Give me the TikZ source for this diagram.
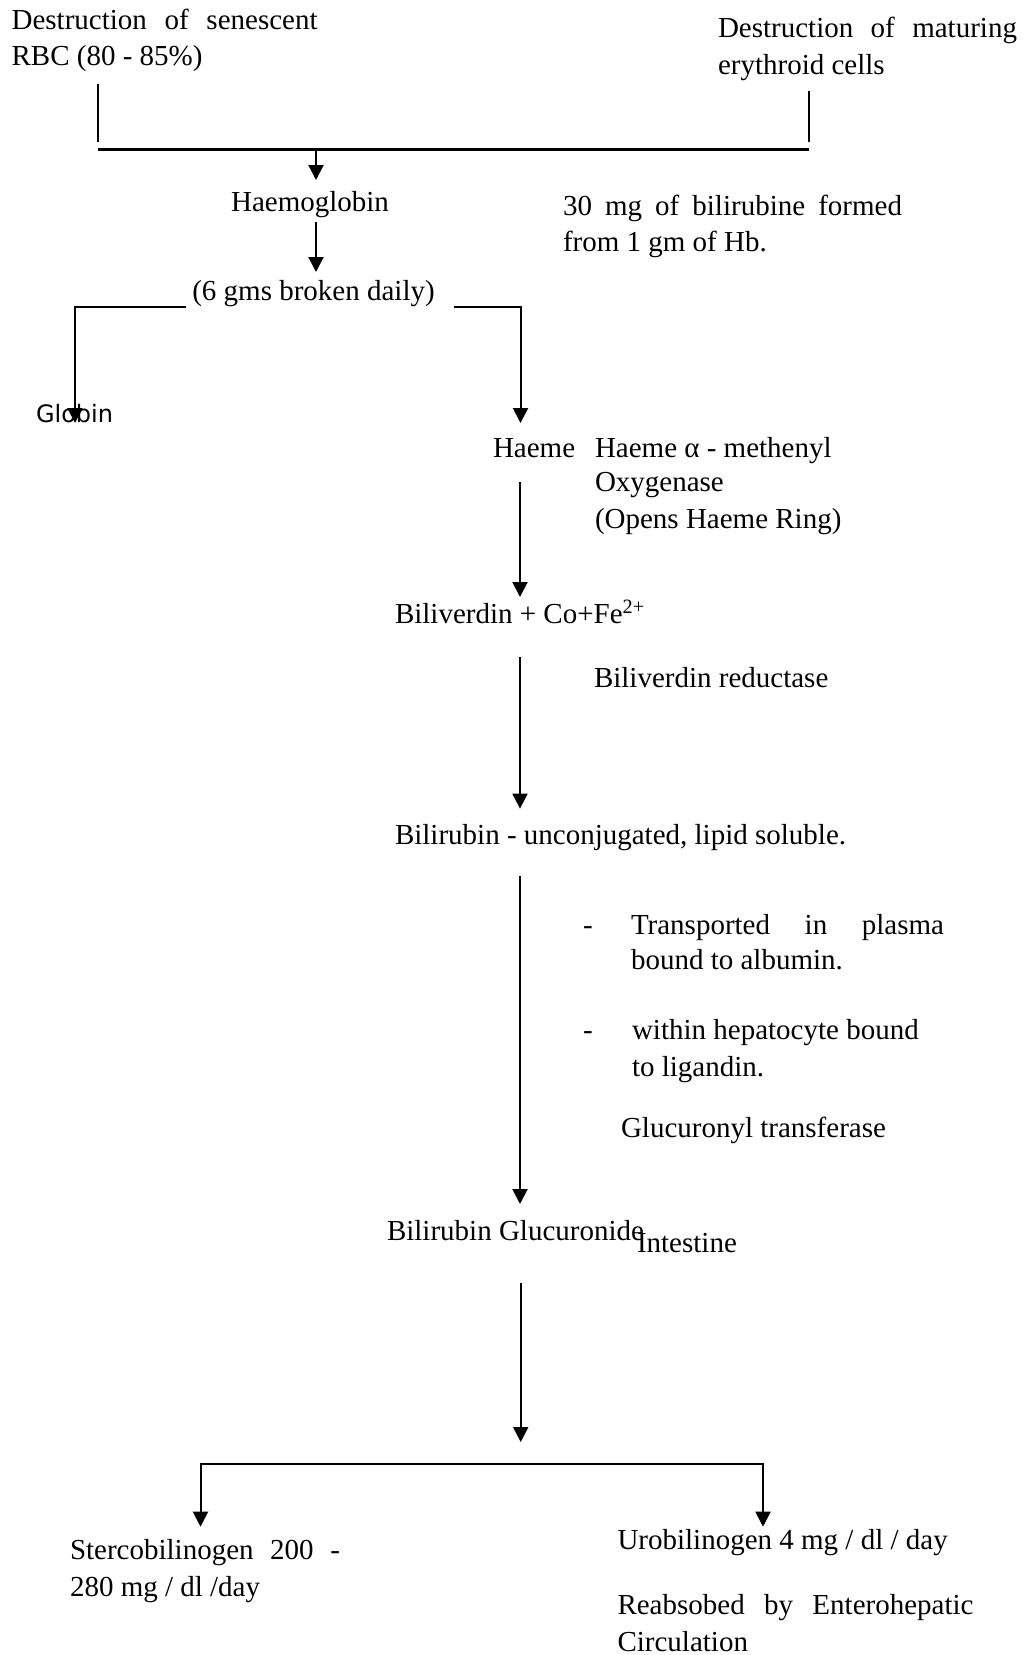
\documentclass[tikz,border=0pt]{standalone}
\usepackage{fontspec}
\setmainfont{Liberation Serif}
\newfontfamily\globfont{DejaVu Sans}
\usetikzlibrary{arrows.meta}
\tikzset{
  lbl/.style={inner sep=0pt, outer sep=0pt, anchor=base west, font=\fontsize{29}{34}\selectfont},
  lblc/.style={lbl, anchor=base},
  conn/.style={line width=2pt},
  arr/.style={conn, -{Triangle[width=15pt,length=15pt]}},
}
\newcommand{\jline}[2]{\makebox[#1][s]{#2}}
\begin{document}
\begin{tikzpicture}[x=1pt,y=-1pt]
\useasboundingbox[fill=white] (0,0) rectangle (1025,1655);
% texts
\node[lbl] (sen1) at (11.6,29) {\jline{306pt}{Destruction of senescent}};
\node[lbl] (sen2) at (11.6,65.5) {RBC (80 - 85\%)};
\node[lbl] (mat1) at (718,37.5) {\jline{299pt}{Destruction of maturing}};
\node[lbl] (mat2) at (718,74.5) {erythroid cells};
\node[lblc] (hb) at (310,211) {Haemoglobin};
\node[lblc] (daily) at (313.5,300) {(6 gms broken daily)};
\node[lbl] (note1) at (563,215.5) {\jline{339pt}{30 mg of bilirubine formed}};
\node[lbl] (note2) at (563,251) {from 1 gm of Hb.};
\node[lbl, font=\globfont\fontsize{24}{28}\selectfont] (globin) at (36,422) {Globin};
\node[lbl] (haeme) at (493,457) {Haeme};
\node[lbl] (enz1) at (595,457) {Haeme α - methenyl};
\node[lbl] (enz2) at (595,491) {Oxygenase};
\node[lbl] (enz3) at (595,528) {(Opens Haeme Ring)};
\node[lbl] (bv) at (395,623) {Biliverdin + Co+Fe\textsuperscript{2+}};
\node[lbl] (bvr) at (594,687) {Biliverdin reductase};
\node[lbl] (br) at (395,844) {Bilirubin - unconjugated, lipid soluble.};
\node[lbl] (d1) at (583,934) {-};
\node[lbl] (t1) at (631,934) {\jline{313pt}{Transported in plasma}};
\node[lbl] (t2) at (631,969) {bound to albumin.};
\node[lbl] (d2) at (583,1039) {-};
\node[lbl] (w1) at (632,1039) {within hepatocyte bound};
\node[lbl] (w2) at (632,1076) {to ligandin.};
\node[lbl] (gt) at (621,1137) {Glucuronyl transferase};
\node[lbl] (bg) at (387,1240) {Bilirubin Glucuronide};
\node[lbl] (int) at (637,1252) {Intestine};
\node[lbl] (st1) at (70,1559) {\jline{270pt}{Stercobilinogen 200 -}};
\node[lbl] (st2) at (70,1596) {280 mg / dl /day};
\node[lbl] (ur) at (617.5,1549) {Urobilinogen 4 mg / dl / day};
\node[lbl] (re1) at (617.5,1614) {\jline{356pt}{Reabsobed by Enterohepatic}};
\node[lbl] (re2) at (617.5,1651) {Circulation};
% coordinates
\coordinate (lt) at (98,84);
\coordinate (lb) at (98,142);
\coordinate (rt) at (808.6,91);
\coordinate (rb) at (808.6,142);
\coordinate (hl) at (98,149);
\coordinate (hr) at (808.6,149);
\coordinate (hm) at (316,149);
\coordinate (hbtip) at (316,180);
\coordinate (hbs) at (316,222);
\coordinate (dtip) at (316,272);
\coordinate (bl) at (186,307);
\coordinate (gtip) at (75,423);
\coordinate (brr) at (454,307);
\coordinate (htip) at (520.5,423);
\coordinate (hs) at (520,482);
\coordinate (bvtip) at (520,597);
\coordinate (bvs) at (520,657);
\coordinate (brtip) at (520,808.6);
\coordinate (brs) at (520,876);
\coordinate (bgtip) at (520,1204);
\coordinate (bgs) at (520.7,1283);
\coordinate (bgend) at (520.7,1442);
\coordinate (sttip) at (200.5,1526.7);
\coordinate (urtip) at (763,1526.7);
\coordinate (bh) at (763,1464);
% connectors
\draw[conn] (lt) -- (lb);
\draw[conn] (rt) -- (rb);
\draw[line width=3pt] (hl) -- (hr);
\draw[arr] (hm) -- (hbtip);
\draw[arr] (hbs) -- (dtip);
\draw[arr] (bl) -| (gtip);
\draw[arr] (brr) -| (htip);
\draw[arr] (hs) -- (bvtip);
\draw[arr] (bvs) -- (brtip);
\draw[arr] (brs) -- (bgtip);
\draw[arr] (bgs) -- (bgend);
\draw[conn, {Triangle[width=15pt,length=15pt]}-{Triangle[width=15pt,length=15pt]}] (sttip) |- (bh) -- (urtip);
\end{tikzpicture}
\end{document}
